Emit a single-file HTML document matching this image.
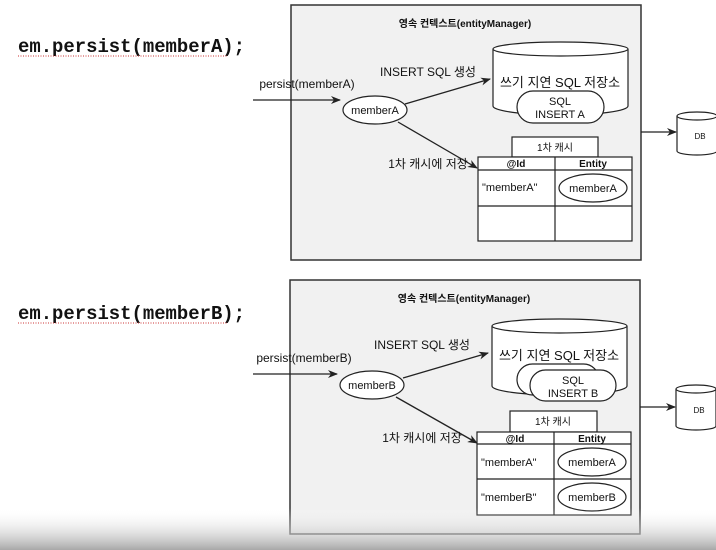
<!DOCTYPE html>
<html><head><meta charset="utf-8"><style>
html,body{margin:0;padding:0;background:#fff;width:716px;height:550px;overflow:hidden}
svg{display:block}
text{font-family:"Liberation Sans","Noto Sans CJK KR",sans-serif;fill:#111}
.code{font-family:"Liberation Mono",monospace;font-weight:bold;font-size:19px}
</style></head><body>
<svg width="716" height="550" viewBox="0 0 716 550" xmlns="http://www.w3.org/2000/svg">
<defs>
<marker id="ar" markerWidth="10" markerHeight="8" refX="9" refY="4" orient="auto" markerUnits="userSpaceOnUse"><path d="M0,0 L10,4 L0,8 L3,4 z" fill="#222"/></marker>
<linearGradient id="bg" x1="0" y1="0" x2="0" y2="1"><stop offset="0" stop-color="#fff" stop-opacity="0"/><stop offset="1" stop-color="#a8a8a8"/></linearGradient>
</defs>

<text class="code" x="18" y="52" textLength="227" lengthAdjust="spacingAndGlyphs">em.persist(memberA);</text>
<path d="M18,56 L228,56" stroke="#c33" stroke-width="1" stroke-dasharray="1,1.5"/>
<text class="code" x="18" y="319" textLength="227" lengthAdjust="spacingAndGlyphs">em.persist(memberB);</text>
<path d="M18,323 L228,323" stroke="#c33" stroke-width="1" stroke-dasharray="1,1.5"/>

<!-- TOP DIAGRAM -->
<rect x="291" y="5" width="350" height="255" fill="#f1f1f1" stroke="#333" stroke-width="1.5"/>
<text x="465" y="27" font-size="10" font-weight="bold" text-anchor="middle">영속 컨텍스트(entityManager)</text>
<line x1="253" y1="100" x2="340" y2="100" stroke="#222" stroke-width="1.3" marker-end="url(#ar)"/>
<text x="307" y="88" font-size="12" text-anchor="middle">persist(memberA)</text>
<ellipse cx="375" cy="110" rx="32" ry="14" fill="#fff" stroke="#222" stroke-width="1.2"/>
<text x="375" y="114" font-size="11" text-anchor="middle">memberA</text>
<line x1="405" y1="104" x2="490" y2="79" stroke="#222" stroke-width="1.3" marker-end="url(#ar)"/>
<text x="428" y="76" font-size="12" text-anchor="middle">INSERT SQL 생성</text>
<line x1="398" y1="122" x2="477" y2="168" stroke="#222" stroke-width="1.3" marker-end="url(#ar)"/>
<text x="428" y="168" font-size="12" text-anchor="middle">1차 캐시에 저장</text>
<path d="M493,49 L493,106 A67.5,9 0 0 0 628,106 L628,49" fill="#fff" stroke="#222" stroke-width="1.2"/>
<ellipse cx="560.5" cy="49" rx="67.5" ry="7" fill="#fff" stroke="#222" stroke-width="1.2"/>
<text x="560" y="87" font-size="13" text-anchor="middle">쓰기 지연 SQL 저장소</text>
<rect x="517" y="91" width="87" height="32" rx="16" fill="#fff" stroke="#222" stroke-width="1.2"/>
<text x="560" y="105" font-size="11" text-anchor="middle">SQL</text>
<text x="560" y="118" font-size="11" text-anchor="middle">INSERT A</text>
<rect x="512" y="137" width="86" height="20" fill="#fff" stroke="#222" stroke-width="1.2"/>
<text x="555" y="151" font-size="10" text-anchor="middle">1차 캐시</text>
<rect x="478" y="157" width="154" height="84" fill="#fff" stroke="#222" stroke-width="1.2"/>
<line x1="478" y1="170" x2="632" y2="170" stroke="#222" stroke-width="1.2"/>
<line x1="478" y1="206" x2="632" y2="206" stroke="#222" stroke-width="1.2"/>
<line x1="555" y1="157" x2="555" y2="241" stroke="#222" stroke-width="1.2"/>
<text x="516" y="167" font-size="10" font-weight="bold" text-anchor="middle">@Id</text>
<text x="593" y="167" font-size="10" font-weight="bold" text-anchor="middle">Entity</text>
<text x="482" y="191" font-size="11">"memberA"</text>
<ellipse cx="593" cy="188" rx="34" ry="14" fill="#fff" stroke="#222" stroke-width="1.2"/>
<text x="593" y="192" font-size="11" text-anchor="middle">memberA</text>
<line x1="641" y1="132" x2="676" y2="132" stroke="#222" stroke-width="1.3" marker-end="url(#ar)"/>
<path d="M677,116 L677,151 A20,4 0 0 0 717,151 L717,116" fill="#fff" stroke="#222" stroke-width="1.2"/>
<ellipse cx="697" cy="116" rx="20" ry="4" fill="#fff" stroke="#222" stroke-width="1.2"/>
<text x="700" y="139" font-size="8" text-anchor="middle">DB</text>

<!-- BOTTOM DIAGRAM -->
<rect x="290" y="280" width="350" height="254" fill="#f1f1f1" stroke="#333" stroke-width="1.5"/>
<text x="464" y="302" font-size="10" font-weight="bold" text-anchor="middle">영속 컨텍스트(entityManager)</text>
<line x1="253" y1="374" x2="337" y2="374" stroke="#222" stroke-width="1.3" marker-end="url(#ar)"/>
<text x="304" y="362" font-size="12" text-anchor="middle">persist(memberB)</text>
<ellipse cx="372" cy="385" rx="32" ry="14" fill="#fff" stroke="#222" stroke-width="1.2"/>
<text x="372" y="389" font-size="11" text-anchor="middle">memberB</text>
<line x1="403" y1="378" x2="488" y2="353" stroke="#222" stroke-width="1.3" marker-end="url(#ar)"/>
<text x="422" y="349" font-size="12" text-anchor="middle">INSERT SQL 생성</text>
<line x1="396" y1="397" x2="477" y2="443" stroke="#222" stroke-width="1.3" marker-end="url(#ar)"/>
<text x="422" y="442" font-size="12" text-anchor="middle">1차 캐시에 저장</text>
<path d="M492,326 L492,386 A67.5,9 0 0 0 627,386 L627,326" fill="#fff" stroke="#222" stroke-width="1.2"/>
<ellipse cx="559.5" cy="326" rx="67.5" ry="7" fill="#fff" stroke="#222" stroke-width="1.2"/>
<text x="559" y="360" font-size="13" text-anchor="middle">쓰기 지연 SQL 저장소</text>
<rect x="517" y="364" width="82" height="31" rx="15.5" fill="#fff" stroke="#222" stroke-width="1.2"/>
<rect x="530" y="370" width="86" height="31" rx="15.5" fill="#fff" stroke="#222" stroke-width="1.2"/>
<text x="573" y="384" font-size="11" text-anchor="middle">SQL</text>
<text x="573" y="397" font-size="11" text-anchor="middle">INSERT B</text>
<rect x="510" y="411" width="87" height="21" fill="#fff" stroke="#222" stroke-width="1.2"/>
<text x="553" y="425" font-size="10" text-anchor="middle">1차 캐시</text>
<rect x="477" y="432" width="154" height="83" fill="#fff" stroke="#222" stroke-width="1.2"/>
<line x1="477" y1="444" x2="631" y2="444" stroke="#222" stroke-width="1.2"/>
<line x1="477" y1="479" x2="631" y2="479" stroke="#222" stroke-width="1.2"/>
<line x1="554" y1="432" x2="554" y2="515" stroke="#222" stroke-width="1.2"/>
<text x="515" y="442" font-size="10" font-weight="bold" text-anchor="middle">@Id</text>
<text x="592" y="442" font-size="10" font-weight="bold" text-anchor="middle">Entity</text>
<text x="481" y="466" font-size="11">"memberA"</text>
<ellipse cx="592" cy="462" rx="34" ry="14" fill="#fff" stroke="#222" stroke-width="1.2"/>
<text x="592" y="466" font-size="11" text-anchor="middle">memberA</text>
<text x="481" y="501" font-size="11">"memberB"</text>
<ellipse cx="592" cy="497" rx="34" ry="14" fill="#fff" stroke="#222" stroke-width="1.2"/>
<text x="592" y="501" font-size="11" text-anchor="middle">memberB</text>
<line x1="640" y1="407" x2="675" y2="407" stroke="#222" stroke-width="1.3" marker-end="url(#ar)"/>
<path d="M676,389 L676,426 A20,4 0 0 0 716,426 L716,389" fill="#fff" stroke="#222" stroke-width="1.2"/>
<ellipse cx="696" cy="389" rx="20" ry="4" fill="#fff" stroke="#222" stroke-width="1.2"/>
<text x="699" y="413" font-size="8" text-anchor="middle">DB</text>

<rect x="0" y="508" width="716" height="42" fill="url(#bg)"/>
</svg>
</body></html>
